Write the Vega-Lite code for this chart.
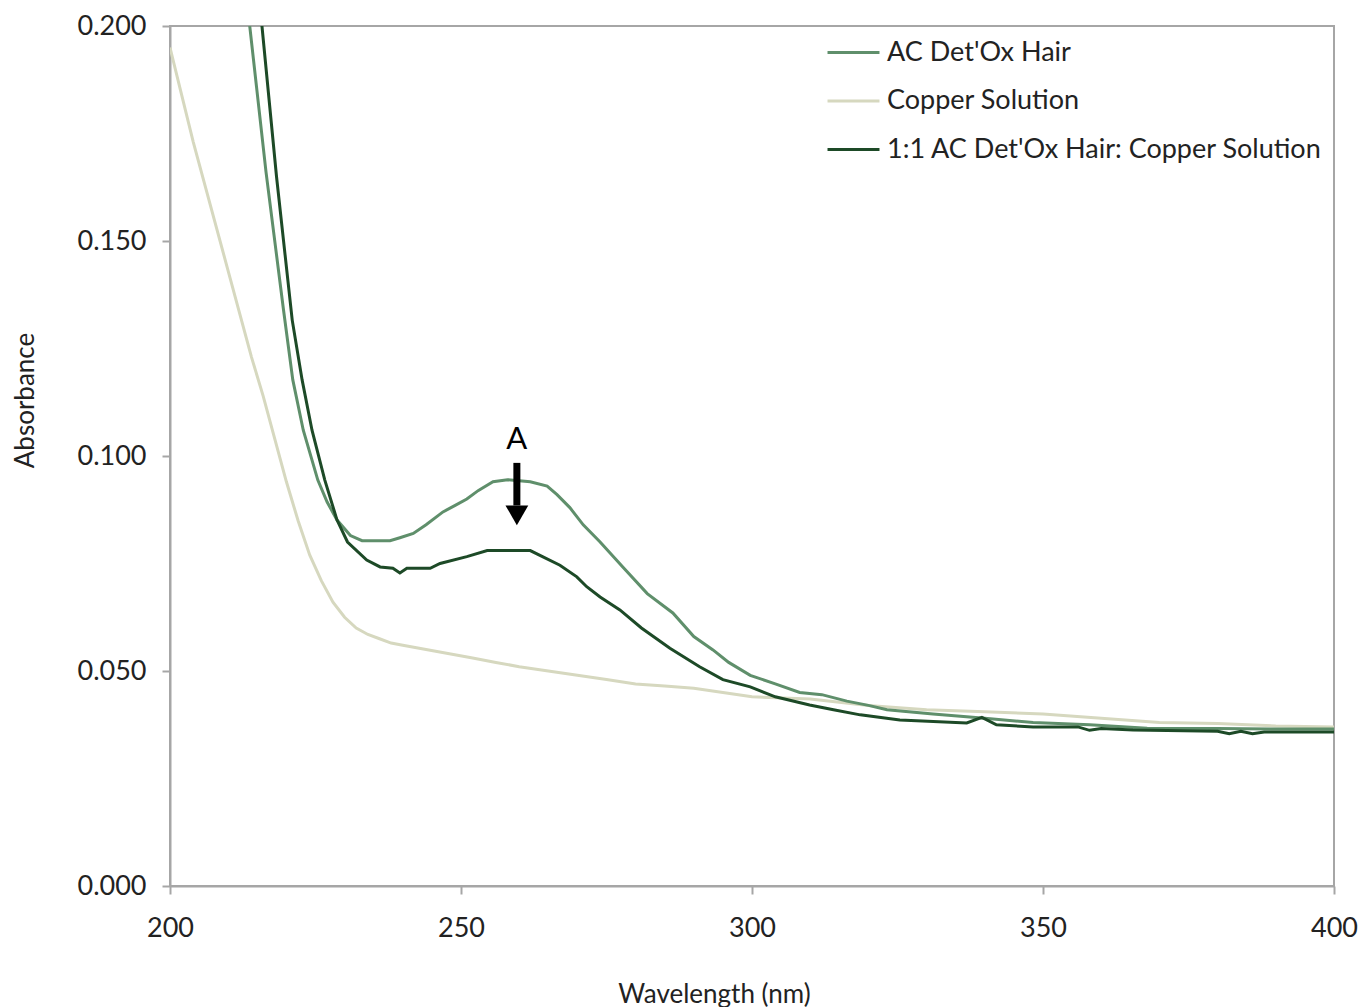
{
  "$schema": "https://vega.github.io/schema/vega-lite/v6.json",
  "width": 1164,
  "height": 860,
  "autosize": "none",
  "padding": {"left": 170, "top": 26, "right": 28, "bottom": 121},
  "background": "white",
  "config": {
    "font": "Lato",
    "view": {"stroke": "#a6a6a6", "strokeWidth": 2},
    "axis": {
      "grid": false,
      "domainColor": "#a6a6a6",
      "domainWidth": 2,
      "tickColor": "#a6a6a6",
      "tickWidth": 2,
      "tickSize": 8,
      "labelFont": "Lato",
      "labelFontSize": 27,
      "labelColor": "#222222",
      "titleFont": "Lato",
      "titleFontSize": 26,
      "titleFontWeight": "normal",
      "titleColor": "#222222"
    },
    "legend": {
      "labelFont": "Lato",
      "labelFontSize": 27,
      "labelColor": "#222222"
    }
  },
  "datasets": {
    "spectra": [
      {"series": "Copper Solution", "wl": 200, "abs": 0.195},
      {"series": "Copper Solution", "wl": 202, "abs": 0.184},
      {"series": "Copper Solution", "wl": 204, "abs": 0.173},
      {"series": "Copper Solution", "wl": 206, "abs": 0.163},
      {"series": "Copper Solution", "wl": 208, "abs": 0.153},
      {"series": "Copper Solution", "wl": 210, "abs": 0.143},
      {"series": "Copper Solution", "wl": 212, "abs": 0.133},
      {"series": "Copper Solution", "wl": 214, "abs": 0.123},
      {"series": "Copper Solution", "wl": 216, "abs": 0.114},
      {"series": "Copper Solution", "wl": 218, "abs": 0.104},
      {"series": "Copper Solution", "wl": 220, "abs": 0.094},
      {"series": "Copper Solution", "wl": 222, "abs": 0.085},
      {"series": "Copper Solution", "wl": 224, "abs": 0.077},
      {"series": "Copper Solution", "wl": 226, "abs": 0.071},
      {"series": "Copper Solution", "wl": 228, "abs": 0.066},
      {"series": "Copper Solution", "wl": 230, "abs": 0.0625},
      {"series": "Copper Solution", "wl": 232, "abs": 0.060},
      {"series": "Copper Solution", "wl": 234, "abs": 0.0585},
      {"series": "Copper Solution", "wl": 236, "abs": 0.0575},
      {"series": "Copper Solution", "wl": 238, "abs": 0.0565},
      {"series": "Copper Solution", "wl": 240, "abs": 0.056},
      {"series": "Copper Solution", "wl": 244, "abs": 0.055},
      {"series": "Copper Solution", "wl": 248, "abs": 0.054},
      {"series": "Copper Solution", "wl": 252, "abs": 0.053},
      {"series": "Copper Solution", "wl": 256, "abs": 0.052},
      {"series": "Copper Solution", "wl": 260, "abs": 0.051},
      {"series": "Copper Solution", "wl": 265, "abs": 0.050},
      {"series": "Copper Solution", "wl": 270, "abs": 0.049},
      {"series": "Copper Solution", "wl": 275, "abs": 0.048},
      {"series": "Copper Solution", "wl": 280, "abs": 0.047},
      {"series": "Copper Solution", "wl": 285, "abs": 0.0465},
      {"series": "Copper Solution", "wl": 290, "abs": 0.046},
      {"series": "Copper Solution", "wl": 295, "abs": 0.045},
      {"series": "Copper Solution", "wl": 300, "abs": 0.044},
      {"series": "Copper Solution", "wl": 310, "abs": 0.0435},
      {"series": "Copper Solution", "wl": 320, "abs": 0.042},
      {"series": "Copper Solution", "wl": 330, "abs": 0.041},
      {"series": "Copper Solution", "wl": 340, "abs": 0.0405},
      {"series": "Copper Solution", "wl": 350, "abs": 0.040},
      {"series": "Copper Solution", "wl": 360, "abs": 0.039},
      {"series": "Copper Solution", "wl": 370, "abs": 0.038},
      {"series": "Copper Solution", "wl": 380, "abs": 0.0378},
      {"series": "Copper Solution", "wl": 390, "abs": 0.0372},
      {"series": "Copper Solution", "wl": 400, "abs": 0.037},

      {"series": "AC Det'Ox Hair", "wl": 213.0, "abs": 0.209},
      {"series": "AC Det'Ox Hair", "wl": 213.7, "abs": 0.200},
      {"series": "AC Det'Ox Hair", "wl": 216.5, "abs": 0.166},
      {"series": "AC Det'Ox Hair", "wl": 219.5, "abs": 0.134},
      {"series": "AC Det'Ox Hair", "wl": 221.1, "abs": 0.1177},
      {"series": "AC Det'Ox Hair", "wl": 222.9, "abs": 0.106},
      {"series": "AC Det'Ox Hair", "wl": 225.4, "abs": 0.0944},
      {"series": "AC Det'Ox Hair", "wl": 227.0, "abs": 0.0893},
      {"series": "AC Det'Ox Hair", "wl": 228.7, "abs": 0.0851},
      {"series": "AC Det'Ox Hair", "wl": 231.0, "abs": 0.0815},
      {"series": "AC Det'Ox Hair", "wl": 233.0, "abs": 0.0803},
      {"series": "AC Det'Ox Hair", "wl": 237.8, "abs": 0.0803},
      {"series": "AC Det'Ox Hair", "wl": 239.5, "abs": 0.081},
      {"series": "AC Det'Ox Hair", "wl": 241.8, "abs": 0.082},
      {"series": "AC Det'Ox Hair", "wl": 244.0, "abs": 0.084},
      {"series": "AC Det'Ox Hair", "wl": 246.9, "abs": 0.087},
      {"series": "AC Det'Ox Hair", "wl": 249.0, "abs": 0.0885},
      {"series": "AC Det'Ox Hair", "wl": 251.0, "abs": 0.090},
      {"series": "AC Det'Ox Hair", "wl": 253.0, "abs": 0.092},
      {"series": "AC Det'Ox Hair", "wl": 255.5, "abs": 0.094},
      {"series": "AC Det'Ox Hair", "wl": 258.0, "abs": 0.0945},
      {"series": "AC Det'Ox Hair", "wl": 261.9, "abs": 0.094},
      {"series": "AC Det'Ox Hair", "wl": 264.8, "abs": 0.093},
      {"series": "AC Det'Ox Hair", "wl": 266.5, "abs": 0.091},
      {"series": "AC Det'Ox Hair", "wl": 268.7, "abs": 0.088},
      {"series": "AC Det'Ox Hair", "wl": 271.0, "abs": 0.084},
      {"series": "AC Det'Ox Hair", "wl": 273.9, "abs": 0.080},
      {"series": "AC Det'Ox Hair", "wl": 277.8, "abs": 0.0742},
      {"series": "AC Det'Ox Hair", "wl": 282.0, "abs": 0.068},
      {"series": "AC Det'Ox Hair", "wl": 286.4, "abs": 0.0635},
      {"series": "AC Det'Ox Hair", "wl": 290.0, "abs": 0.058},
      {"series": "AC Det'Ox Hair", "wl": 293.3, "abs": 0.0549},
      {"series": "AC Det'Ox Hair", "wl": 296.0, "abs": 0.052},
      {"series": "AC Det'Ox Hair", "wl": 299.7, "abs": 0.049},
      {"series": "AC Det'Ox Hair", "wl": 304.0, "abs": 0.047},
      {"series": "AC Det'Ox Hair", "wl": 308.2, "abs": 0.045},
      {"series": "AC Det'Ox Hair", "wl": 312.0, "abs": 0.0445},
      {"series": "AC Det'Ox Hair", "wl": 316.3, "abs": 0.043},
      {"series": "AC Det'Ox Hair", "wl": 320.0, "abs": 0.042},
      {"series": "AC Det'Ox Hair", "wl": 323.2, "abs": 0.041},
      {"series": "AC Det'Ox Hair", "wl": 331.1, "abs": 0.040},
      {"series": "AC Det'Ox Hair", "wl": 340.0, "abs": 0.039},
      {"series": "AC Det'Ox Hair", "wl": 348.3, "abs": 0.038},
      {"series": "AC Det'Ox Hair", "wl": 358.0, "abs": 0.0375},
      {"series": "AC Det'Ox Hair", "wl": 367.9, "abs": 0.0367},
      {"series": "AC Det'Ox Hair", "wl": 380.0, "abs": 0.0366},
      {"series": "AC Det'Ox Hair", "wl": 390.0, "abs": 0.0365},
      {"series": "AC Det'Ox Hair", "wl": 400.0, "abs": 0.0365},

      {"series": "1:1 AC Det'Ox Hair: Copper Solution", "wl": 215.1, "abs": 0.209},
      {"series": "1:1 AC Det'Ox Hair: Copper Solution", "wl": 215.8, "abs": 0.200},
      {"series": "1:1 AC Det'Ox Hair: Copper Solution", "wl": 218.3, "abs": 0.165},
      {"series": "1:1 AC Det'Ox Hair: Copper Solution", "wl": 221.0, "abs": 0.1316},
      {"series": "1:1 AC Det'Ox Hair: Copper Solution", "wl": 222.7, "abs": 0.1177},
      {"series": "1:1 AC Det'Ox Hair: Copper Solution", "wl": 224.4, "abs": 0.106},
      {"series": "1:1 AC Det'Ox Hair: Copper Solution", "wl": 226.6, "abs": 0.0944},
      {"series": "1:1 AC Det'Ox Hair: Copper Solution", "wl": 228.7, "abs": 0.0851},
      {"series": "1:1 AC Det'Ox Hair: Copper Solution", "wl": 230.5, "abs": 0.080},
      {"series": "1:1 AC Det'Ox Hair: Copper Solution", "wl": 233.8, "abs": 0.0758},
      {"series": "1:1 AC Det'Ox Hair: Copper Solution", "wl": 236.1, "abs": 0.0742},
      {"series": "1:1 AC Det'Ox Hair: Copper Solution", "wl": 238.3, "abs": 0.0739},
      {"series": "1:1 AC Det'Ox Hair: Copper Solution", "wl": 239.5, "abs": 0.0728},
      {"series": "1:1 AC Det'Ox Hair: Copper Solution", "wl": 240.7, "abs": 0.0739},
      {"series": "1:1 AC Det'Ox Hair: Copper Solution", "wl": 244.7, "abs": 0.0739},
      {"series": "1:1 AC Det'Ox Hair: Copper Solution", "wl": 246.4, "abs": 0.075},
      {"series": "1:1 AC Det'Ox Hair: Copper Solution", "wl": 251.0, "abs": 0.0766},
      {"series": "1:1 AC Det'Ox Hair: Copper Solution", "wl": 254.5, "abs": 0.078},
      {"series": "1:1 AC Det'Ox Hair: Copper Solution", "wl": 261.9, "abs": 0.078},
      {"series": "1:1 AC Det'Ox Hair: Copper Solution", "wl": 264.0, "abs": 0.0766},
      {"series": "1:1 AC Det'Ox Hair: Copper Solution", "wl": 267.0, "abs": 0.0746},
      {"series": "1:1 AC Det'Ox Hair: Copper Solution", "wl": 269.9, "abs": 0.0719},
      {"series": "1:1 AC Det'Ox Hair: Copper Solution", "wl": 271.6, "abs": 0.0696},
      {"series": "1:1 AC Det'Ox Hair: Copper Solution", "wl": 273.9, "abs": 0.0672},
      {"series": "1:1 AC Det'Ox Hair: Copper Solution", "wl": 277.3, "abs": 0.0642},
      {"series": "1:1 AC Det'Ox Hair: Copper Solution", "wl": 281.0, "abs": 0.060},
      {"series": "1:1 AC Det'Ox Hair: Copper Solution", "wl": 285.9, "abs": 0.0553},
      {"series": "1:1 AC Det'Ox Hair: Copper Solution", "wl": 291.0, "abs": 0.051},
      {"series": "1:1 AC Det'Ox Hair: Copper Solution", "wl": 295.0, "abs": 0.048},
      {"series": "1:1 AC Det'Ox Hair: Copper Solution", "wl": 299.7, "abs": 0.0463},
      {"series": "1:1 AC Det'Ox Hair: Copper Solution", "wl": 304.0, "abs": 0.044},
      {"series": "1:1 AC Det'Ox Hair: Copper Solution", "wl": 309.9, "abs": 0.0421},
      {"series": "1:1 AC Det'Ox Hair: Copper Solution", "wl": 314.0, "abs": 0.041},
      {"series": "1:1 AC Det'Ox Hair: Copper Solution", "wl": 318.6, "abs": 0.0398},
      {"series": "1:1 AC Det'Ox Hair: Copper Solution", "wl": 325.4, "abs": 0.0386},
      {"series": "1:1 AC Det'Ox Hair: Copper Solution", "wl": 336.9, "abs": 0.0379},
      {"series": "1:1 AC Det'Ox Hair: Copper Solution", "wl": 339.5, "abs": 0.0392},
      {"series": "1:1 AC Det'Ox Hair: Copper Solution", "wl": 342.0, "abs": 0.0375},
      {"series": "1:1 AC Det'Ox Hair: Copper Solution", "wl": 348.3, "abs": 0.037},
      {"series": "1:1 AC Det'Ox Hair: Copper Solution", "wl": 356.0, "abs": 0.037},
      {"series": "1:1 AC Det'Ox Hair: Copper Solution", "wl": 358.0, "abs": 0.0362},
      {"series": "1:1 AC Det'Ox Hair: Copper Solution", "wl": 360.0, "abs": 0.0366},
      {"series": "1:1 AC Det'Ox Hair: Copper Solution", "wl": 365.5, "abs": 0.0363},
      {"series": "1:1 AC Det'Ox Hair: Copper Solution", "wl": 380.0, "abs": 0.036},
      {"series": "1:1 AC Det'Ox Hair: Copper Solution", "wl": 382.0, "abs": 0.0354},
      {"series": "1:1 AC Det'Ox Hair: Copper Solution", "wl": 384.0, "abs": 0.036},
      {"series": "1:1 AC Det'Ox Hair: Copper Solution", "wl": 386.0, "abs": 0.0354},
      {"series": "1:1 AC Det'Ox Hair: Copper Solution", "wl": 388.0, "abs": 0.0358},
      {"series": "1:1 AC Det'Ox Hair: Copper Solution", "wl": 400.0, "abs": 0.0358}
    ],
    "arrow": [
      {"label": "A", "wl": 259.6, "textY": 0.1037, "top": 0.0984, "bottom": 0.0885, "head": 0.0862}
    ]
  },
  "layer": [
    {
      "data": {"name": "spectra"},
      "mark": {"type": "line", "strokeWidth": 3, "clip": true, "interpolate": "linear"},
      "encoding": {
        "x": {
          "field": "wl", "type": "quantitative",
          "scale": {"domain": [200, 400], "nice": false, "zero": false},
          "axis": {
            "values": [200, 250, 300, 350, 400],
            "title": "Wavelength (nm)",
            "labelPadding": 21,
            "labelFlush": false,
            "labelOverlap": false,
            "titleX": 544, "titleY": 108, "titleBaseline": "middle", "titleAnchor": null, "titleAlign": "center"
          }
        },
        "y": {
          "field": "abs", "type": "quantitative",
          "scale": {"domain": [0, 0.2], "nice": false},
          "axis": {
            "values": [0, 0.05, 0.1, 0.15, 0.2],
            "format": ".3f",
            "title": "Absorbance",
            "labelPadding": 16,
            "labelFlush": false,
            "labelOverlap": false,
            "titleX": -145, "titleY": 374, "titleAngle": 270, "titleBaseline": "middle", "titleAlign": "center", "titleAnchor": null
          }
        },
        "color": {
          "field": "series", "type": "nominal",
          "scale": {
            "domain": ["AC Det'Ox Hair", "Copper Solution", "1:1 AC Det'Ox Hair: Copper Solution"],
            "range": ["#5f8f6b", "#d6d8bf", "#1d4a27"]
          },
          "legend": {
            "title": null,
            "orient": "none",
            "legendX": 656,
            "legendY": -1,
            "symbolType": "stroke",
            "symbolSize": 2700,
            "symbolStrokeWidth": 3,
            "rowPadding": 7.5,
            "labelOffset": 6,
            "labelLimit": 600
          }
        }
      }
    },
    {
      "data": {"name": "arrow"},
      "mark": {"type": "rule", "strokeWidth": 7, "color": "black"},
      "encoding": {
        "x": {"field": "wl", "type": "quantitative"},
        "y": {"field": "top", "type": "quantitative"},
        "y2": {"field": "bottom"}
      }
    },
    {
      "data": {"name": "arrow"},
      "mark": {"type": "point", "shape": "triangle-down", "filled": true, "color": "black", "size": 520, "opacity": 1},
      "encoding": {
        "x": {"field": "wl", "type": "quantitative"},
        "y": {"field": "head", "type": "quantitative"}
      }
    },
    {
      "data": {"name": "arrow"},
      "mark": {"type": "text", "fontSize": 31, "font": "Lato", "color": "black", "baseline": "middle", "align": "center"},
      "encoding": {
        "x": {"field": "wl", "type": "quantitative"},
        "y": {"field": "textY", "type": "quantitative"},
        "text": {"field": "label"}
      }
    }
  ]
}
